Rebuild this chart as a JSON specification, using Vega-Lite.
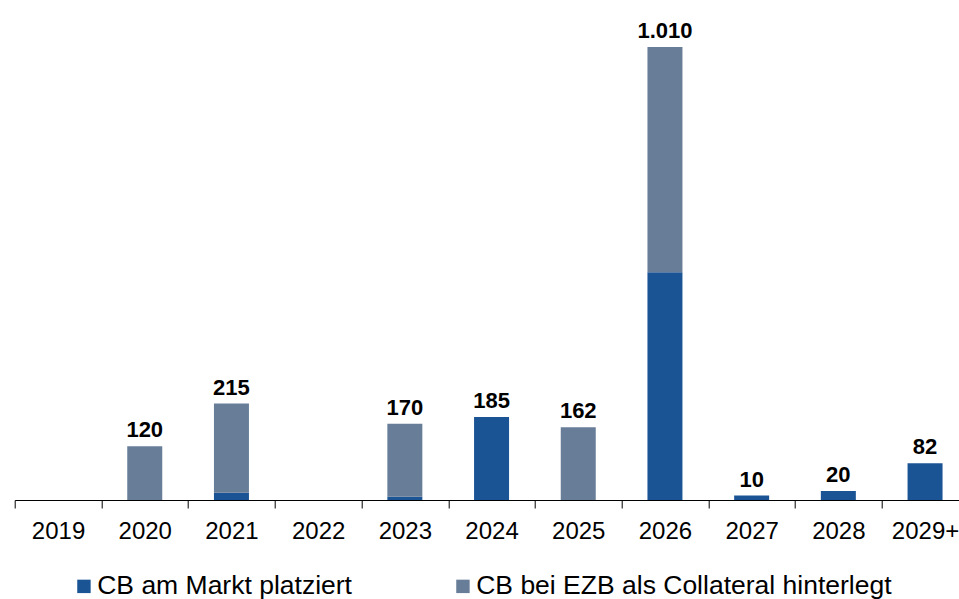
{
  "$schema": "https://vega.github.io/schema/vega-lite/v6.json",
  "width": 944.3,
  "height": 453,
  "autosize": {"type": "none"},
  "padding": {"left": 14.7, "top": 47, "right": 0, "bottom": 99},
  "background": "white",
  "config": {
    "view": {"stroke": null},
    "font": "Liberation Sans",
    "axis": {"grid": false}
  },
  "datasets": {
    "segments": [
      {"year": "2020", "series": "CB bei EZB als Collateral hinterlegt", "value": 120},
      {"year": "2021", "series": "CB am Markt platziert", "value": 16},
      {"year": "2021", "series": "CB bei EZB als Collateral hinterlegt", "value": 199},
      {"year": "2023", "series": "CB am Markt platziert", "value": 7},
      {"year": "2023", "series": "CB bei EZB als Collateral hinterlegt", "value": 163},
      {"year": "2024", "series": "CB am Markt platziert", "value": 185},
      {"year": "2025", "series": "CB bei EZB als Collateral hinterlegt", "value": 162},
      {"year": "2026", "series": "CB am Markt platziert", "value": 508},
      {"year": "2026", "series": "CB bei EZB als Collateral hinterlegt", "value": 502},
      {"year": "2027", "series": "CB am Markt platziert", "value": 10},
      {"year": "2028", "series": "CB am Markt platziert", "value": 20},
      {"year": "2029+", "series": "CB am Markt platziert", "value": 82}
    ],
    "totals": [
      {"year": "2020", "total": 120, "label": "120"},
      {"year": "2021", "total": 215, "label": "215"},
      {"year": "2023", "total": 170, "label": "170"},
      {"year": "2024", "total": 185, "label": "185"},
      {"year": "2025", "total": 162, "label": "162"},
      {"year": "2026", "total": 1010, "label": "1.010"},
      {"year": "2027", "total": 10, "label": "10"},
      {"year": "2028", "total": 20, "label": "20"},
      {"year": "2029+", "total": 82, "label": "82"}
    ]
  },
  "layer": [
    {
      "data": {"name": "segments"},
      "mark": {"type": "bar", "strokeWidth": 0, "width": 35},
      "encoding": {
        "x": {
          "field": "year",
          "type": "nominal",
          "sort": null,
          "scale": {
            "domain": ["2019", "2020", "2021", "2022", "2023", "2024", "2025", "2026", "2027", "2028", "2029+"],
            "range": [0, 953.7],
            "paddingInner": 0,
            "paddingOuter": 0
          },
          "axis": {
            "title": null,
            "labelAngle": 0,
            "tickBand": "extent",
            "domainColor": "#000000",
            "domainWidth": 1,
            "tickColor": "#000000",
            "tickWidth": 1,
            "tickSize": 8,
            "labelFontSize": 24,
            "labelColor": "#000000",
            "labelPadding": 11,
            "labelFont": "Liberation Sans"
          }
        },
        "y": {
          "field": "value",
          "type": "quantitative",
          "stack": "zero",
          "scale": {"domain": [0, 1010], "nice": false},
          "axis": null
        },
        "color": {
          "field": "series",
          "type": "nominal",
          "scale": {
            "domain": ["CB am Markt platziert", "CB bei EZB als Collateral hinterlegt"],
            "range": ["#1b5494", "#687e98"]
          },
          "legend": {
            "title": null,
            "orient": "none",
            "direction": "horizontal",
            "legendX": 56,
            "legendY": 526,
            "padding": 0,
            "symbolType": "square",
            "symbolSize": 180,
            "symbolStrokeWidth": 0,
            "labelFontSize": 26.5,
            "labelFont": "Liberation Sans",
            "labelColor": "#000000",
            "labelOffset": 0,
            "labelLimit": 600,
            "columnPadding": 97
          }
        },
        "order": {"field": "series", "sort": "ascending"}
      }
    },
    {
      "data": {"name": "totals"},
      "mark": {
        "type": "text",
        "fontWeight": "bold",
        "fontSize": 22,
        "font": "Liberation Sans",
        "color": "#000000",
        "baseline": "alphabetic",
        "dy": -9
      },
      "encoding": {
        "x": {"field": "year", "type": "nominal", "sort": null},
        "y": {"field": "total", "type": "quantitative"},
        "text": {"field": "label"}
      }
    }
  ]
}
